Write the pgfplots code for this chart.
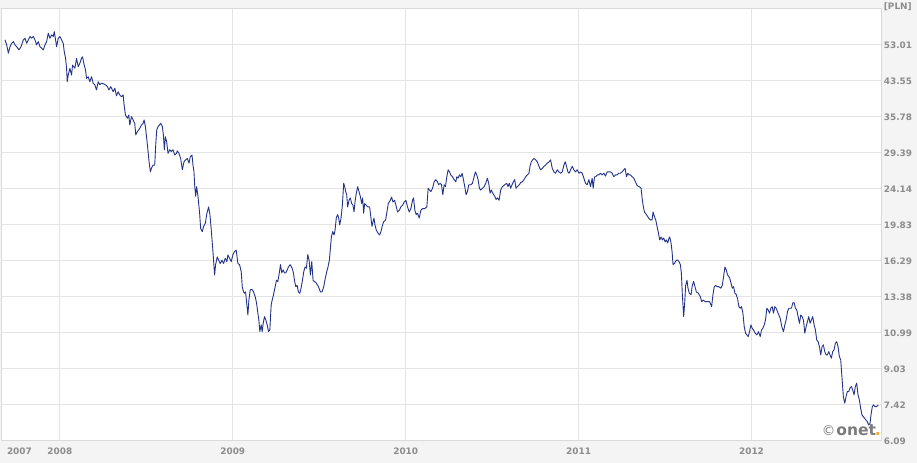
\documentclass[border=0pt]{standalone}
\usepackage{pgfplots}
\pgfplotsset{compat=1.18}
\usepackage{fontspec}
\setmainfont{DejaVu Sans}
\definecolor{bg}{HTML}{F4F4F4}
\definecolor{gridc}{HTML}{E4E4E4}
\definecolor{borderc}{HTML}{DADADA}
\definecolor{tickc}{HTML}{8C8C8C}
\definecolor{linec}{HTML}{24338A}
\definecolor{onetgray}{HTML}{7B7B7B}
\definecolor{onetorange}{HTML}{F7A833}
\begin{document}
\begin{tikzpicture}
\useasboundingbox (0,0) rectangle (917bp,463bp);
\fill[bg] (0,0) rectangle (917bp,463bp);
\begin{axis}[
  name=ax,
  at={(1.7bp,22.7bp)}, anchor=south west,
  scale only axis, width=880bp, height=432bp,
  xmin=2007.6635, xmax=2012.753,
  ymode=log, ymin=6.09, ymax=64.53,
  axis background/.style={fill=white},
  axis line style={draw=borderc, line width=0.8bp},
  grid=major,
  major grid style={draw=gridc, line width=0.8bp},
  tick style={draw=none},
  xtick={2008,2009,2010,2011,2012},
  xticklabels={2008,2009,2010,2011,2012},
  extra x ticks={2007.766},
  extra x tick labels={2007},
  extra x tick style={grid=none},
  ytick={6.09,7.42,9.03,10.99,13.38,16.29,19.83,24.14,29.39,35.78,43.55,53.01},
  yticklabels={6.09,7.42,9.03,10.99,13.38,16.29,19.83,24.14,29.39,35.78,43.55,53.01},
  yticklabel pos=right,
  /pgf/number format/assume math mode=true,
  ticklabel style={font=\fontsize{8.9bp}{10bp}\selectfont\bfseries, text=tickc, inner sep=0pt},
  yticklabel style={anchor=west, xshift=2bp, yshift=-1bp},
  xticklabel style={anchor=north, yshift=-7.2bp},
]
\addplot[color=linec, line width=0.9bp, mark=none, line join=round] table {
2007.6827 54.3
2007.6924 52.8
2007.7020 50.5
2007.7116 52.3
2007.7212 53.3
2007.7308 53.8
2007.7405 52.8
2007.7501 52.3
2007.7636 51.4
2007.7751 52.3
2007.7886 54.3
2007.7982 54.8
2007.8078 53.3
2007.8175 54.3
2007.8271 55.3
2007.8367 54.8
2007.8463 55.3
2007.8559 54.3
2007.8655 52.8
2007.8751 53.8
2007.8848 52.3
2007.8944 51.9
2007.9040 51.4
2007.9136 52.8
2007.9232 53.8
2007.9329 56.3
2007.9425 54.8
2007.9521 55.8
2007.9617 55.3
2007.9675 56.8
2007.9752 54.3
2007.9810 52.3
2007.9906 54.8
2008.0002 55.3
2008.0098 54.3
2008.0194 53.3
2008.0252 50.9
2008.0329 49.1
2008.0387 46.5
2008.0425 43.2
2008.0483 44.8
2008.0579 46.5
2008.0675 44.8
2008.0733 47.3
2008.0868 46.5
2008.0964 49.1
2008.1060 46.9
2008.1156 47.8
2008.1253 49.1
2008.1310 49.5
2008.1406 47.3
2008.1483 46.1
2008.1541 44.0
2008.1637 44.4
2008.1734 43.2
2008.1830 44.4
2008.1926 42.85
2008.2022 42.46
2008.2118 41.3
2008.2215 43.2
2008.2311 42.5
2008.2407 42.85
2008.2599 42.6
2008.2753 42.06
2008.2830 41.3
2008.2945 42.06
2008.3080 40.9
2008.3177 41.7
2008.3273 40.0
2008.3369 40.9
2008.3465 40.2
2008.3561 39.8
2008.3657 40.2
2008.3715 38.06
2008.3792 36.0
2008.3908 35.4
2008.3985 36.0
2008.4043 34.1
2008.4139 35.7
2008.4235 35.07
2008.4331 34.4
2008.4389 32.3
2008.4485 32.9
2008.4620 33.5
2008.4716 34.1
2008.4812 34.4
2008.4870 35.07
2008.4947 33.8
2008.5043 31.1
2008.5101 29.5
2008.5158 27.9
2008.5235 26.4
2008.5293 26.9
2008.5389 27.4
2008.5485 27.4
2008.5543 30.6
2008.5601 33.2
2008.5678 33.8
2008.5832 34.4
2008.5928 33.8
2008.5986 32.3
2008.6043 29.8
2008.6101 32.0
2008.6178 31.1
2008.6255 29.2
2008.6351 29.8
2008.6447 29.5
2008.6543 29.8
2008.6639 28.96
2008.6736 29.2
2008.6793 29.6
2008.6889 29.2
2008.6986 28.4
2008.7082 26.7
2008.7178 27.9
2008.7274 28.2
2008.7371 28.4
2008.7467 27.7
2008.7544 28.7
2008.7640 28.96
2008.7698 27.4
2008.7755 26.4
2008.7794 24.6
2008.7852 23.1
2008.7909 24.35
2008.7986 23.1
2008.8082 21.06
2008.8140 19.4
2008.8236 19.05
2008.8313 19.6
2008.8410 19.94
2008.8506 21.06
2008.8602 21.8
2008.8679 20.9
2008.8756 19.2
2008.8852 17.1
2008.8948 15.03
2008.9006 15.9
2008.9102 16.6
2008.9179 16.3
2008.9276 16.0
2008.9372 16.3
2008.9468 16.0
2008.9564 16.47
2008.9660 16.17
2008.9718 16.77
2008.9814 16.47
2008.9911 16.17
2009.0007 16.77
2009.0103 17.1
2009.0199 17.2
2009.0296 16.0
2009.0392 15.9
2009.0488 15.3
2009.0546 14.1
2009.0623 13.7
2009.0681 13.6
2009.0738 13.7
2009.0815 12.76
2009.0873 12.08
2009.0931 13.1
2009.1008 13.85
2009.1104 13.9
2009.1200 13.7
2009.1296 13.35
2009.1373 12.9
2009.1450 12.2
2009.1508 11.75
2009.1566 11.03
2009.1643 11.44
2009.1700 11.03
2009.1758 11.54
2009.1835 11.97
2009.1912 11.75
2009.1989 11.44
2009.2066 11.03
2009.2143 11.13
2009.2220 12.76
2009.2278 13.1
2009.2355 13.5
2009.2451 14.1
2009.2528 14.6
2009.2605 14.5
2009.2701 15.3
2009.2759 15.9
2009.2836 15.2
2009.2912 15.45
2009.2989 15.2
2009.3066 15.2
2009.3143 15.45
2009.3220 15.7
2009.3316 15.9
2009.3432 15.6
2009.3509 15.2
2009.3566 14.6
2009.3643 14.1
2009.3720 14.2
2009.3797 13.7
2009.3874 13.6
2009.3951 13.98
2009.4028 14.6
2009.4105 15.3
2009.4182 15.7
2009.4259 15.6
2009.4336 16.8
2009.4413 16.3
2009.4490 15.03
2009.4567 16.17
2009.4644 14.6
2009.4721 14.5
2009.4817 14.4
2009.4913 14.2
2009.4990 13.98
2009.5067 13.7
2009.5163 13.7
2009.5260 14.1
2009.5356 14.8
2009.5433 15.3
2009.5491 15.6
2009.5587 16.3
2009.5645 17.4
2009.5702 18.5
2009.5779 19.05
2009.5856 18.7
2009.5914 19.2
2009.5991 20.6
2009.6068 20.9
2009.6126 20.5
2009.6183 19.76
2009.6260 20.5
2009.6337 22.0
2009.6414 24.8
2009.6472 24.35
2009.6530 23.7
2009.6587 23.3
2009.6645 21.8
2009.6722 22.6
2009.6799 22.9
2009.6876 22.2
2009.6953 22.0
2009.7011 21.2
2009.7069 22.4
2009.7145 23.5
2009.7222 24.35
2009.7299 23.7
2009.7376 23.1
2009.7453 22.2
2009.7511 22.9
2009.7569 21.06
2009.7626 22.2
2009.7722 22.0
2009.7819 21.8
2009.7915 21.8
2009.7992 20.5
2009.8050 19.6
2009.8107 20.1
2009.8165 20.5
2009.8223 19.76
2009.8300 19.2
2009.8396 18.9
2009.8492 18.7
2009.8569 19.05
2009.8646 19.65
2009.8723 20.1
2009.8839 20.3
2009.8915 21.2
2009.8992 22.2
2009.9108 22.6
2009.9185 23.0
2009.9262 22.4
2009.9358 22.6
2009.9435 22.0
2009.9531 21.2
2009.9627 21.4
2009.9723 21.8
2009.9819 22.0
2009.9915 22.4
2010.0012 22.6
2010.0108 21.8
2010.0204 21.2
2010.0300 21.6
2010.0396 22.6
2010.0454 22.9
2010.0531 21.4
2010.0608 20.9
2010.0685 21.06
2010.0781 20.5
2010.0877 21.4
2010.0974 21.6
2010.1108 21.6
2010.1224 21.8
2010.1300 24.14
2010.1378 23.9
2010.1455 23.7
2010.1551 24.14
2010.1647 25.0
2010.1743 25.3
2010.1839 25.0
2010.1897 24.6
2010.1993 24.8
2010.2070 24.6
2010.2147 23.3
2010.2224 24.6
2010.2301 24.35
2010.2378 25.7
2010.2455 26.7
2010.2532 26.4
2010.2609 25.96
2010.2705 25.7
2010.2801 25.3
2010.2898 25.0
2010.2955 25.7
2010.3032 25.5
2010.3109 25.96
2010.3186 25.7
2010.3263 26.2
2010.3340 25.3
2010.3417 24.35
2010.3494 23.3
2010.3571 23.7
2010.3648 24.6
2010.3763 24.6
2010.3860 24.8
2010.3956 25.7
2010.4033 26.4
2010.4110 25.96
2010.4187 25.3
2010.4264 24.14
2010.4341 23.9
2010.4437 24.14
2010.4533 24.35
2010.4629 24.8
2010.4725 25.5
2010.4802 24.8
2010.4879 23.5
2010.4956 23.9
2010.5033 23.5
2010.5149 23.1
2010.5226 22.7
2010.5303 22.9
2010.5399 22.6
2010.5495 23.9
2010.5591 24.35
2010.5726 24.6
2010.5841 24.8
2010.5918 24.35
2010.5995 24.8
2010.6072 24.14
2010.6149 24.6
2010.6226 25.0
2010.6303 25.3
2010.6380 24.14
2010.6457 24.35
2010.6572 24.6
2010.6649 24.9
2010.6745 25.0
2010.6841 25.3
2010.6938 25.7
2010.7034 25.96
2010.7130 26.2
2010.7188 27.2
2010.7265 27.9
2010.7342 28.2
2010.7419 28.4
2010.7515 28.2
2010.7611 27.9
2010.7707 27.2
2010.7803 26.7
2010.7900 26.9
2010.7996 27.2
2010.8092 27.4
2010.8188 27.7
2010.8303 27.9
2010.8380 28.2
2010.8477 26.9
2010.8573 26.4
2010.8669 26.2
2010.8765 26.7
2010.8861 26.4
2010.8958 26.2
2010.9054 26.4
2010.9150 27.4
2010.9227 27.9
2010.9304 27.2
2010.9381 26.4
2010.9458 26.2
2010.9535 26.7
2010.9631 27.2
2010.9727 26.7
2010.9824 26.4
2010.9920 26.7
2011.0016 26.2
2011.0112 26.4
2011.0208 26.2
2011.0305 25.5
2011.0401 24.8
2011.0497 24.6
2011.0593 25.3
2011.0689 24.35
2011.0786 25.5
2011.0843 24.14
2011.0920 25.7
2011.0997 25.7
2011.1074 25.96
2011.1171 25.96
2011.1267 26.2
2011.1363 25.96
2011.1459 26.2
2011.1555 25.8
2011.1652 26.4
2011.1748 26.4
2011.1844 26.4
2011.1940 26.2
2011.2036 25.7
2011.2133 25.96
2011.2229 25.96
2011.2325 26.2
2011.2421 26.2
2011.2518 26.4
2011.2614 26.7
2011.2691 26.9
2011.2768 25.7
2011.2845 26.2
2011.2922 25.96
2011.2999 25.96
2011.3095 25.7
2011.3191 25.5
2011.3288 25.0
2011.3384 24.5
2011.3538 24.3
2011.3615 24.14
2011.3672 22.9
2011.3730 22.0
2011.3807 21.2
2011.3923 20.9
2011.4057 20.5
2011.4153 20.3
2011.4250 20.3
2011.4307 21.2
2011.4384 20.7
2011.4461 20.3
2011.4538 19.6
2011.4615 18.9
2011.4692 18.2
2011.4769 18.5
2011.4846 18.2
2011.4923 18.4
2011.5000 18.0
2011.5077 18.2
2011.5154 17.9
2011.5231 18.4
2011.5269 18.5
2011.5346 17.9
2011.5404 17.1
2011.5462 15.9
2011.5539 16.0
2011.5654 16.3
2011.5731 16.3
2011.5808 16.17
2011.5885 15.9
2011.5943 15.2
2011.6000 13.5
2011.6077 11.97
2011.6135 12.9
2011.6193 14.2
2011.6270 14.6
2011.6327 13.98
2011.6404 13.6
2011.6501 13.5
2011.6578 14.2
2011.6655 14.5
2011.6732 14.1
2011.6809 13.7
2011.6924 13.6
2011.7039 13.35
2011.7116 12.99
2011.7193 13.1
2011.7328 12.99
2011.7463 12.99
2011.7578 12.99
2011.7694 12.64
2011.7771 13.5
2011.7847 14.1
2011.7924 14.2
2011.8001 14.1
2011.8098 14.1
2011.8232 13.98
2011.8309 14.2
2011.8386 14.9
2011.8463 15.7
2011.8540 15.45
2011.8617 15.03
2011.8733 14.8
2011.8810 14.4
2011.8887 13.98
2011.8964 14.1
2011.9041 13.6
2011.9117 13.5
2011.9194 13.2
2011.9271 12.64
2011.9348 12.53
2011.9425 12.64
2011.9502 12.2
2011.9579 11.33
2011.9656 10.93
2011.9733 10.83
2011.9810 10.73
2011.9887 11.03
2011.9964 11.44
2012.0041 11.23
2012.0118 11.13
2012.0214 10.93
2012.0310 10.83
2012.0406 11.03
2012.0503 10.73
2012.0580 11.13
2012.0657 11.23
2012.0734 11.44
2012.0810 11.75
2012.0887 12.53
2012.0964 12.41
2012.1041 12.2
2012.1118 12.53
2012.1195 12.64
2012.1272 12.2
2012.1349 12.64
2012.1426 12.53
2012.1503 12.3
2012.1580 12.08
2012.1657 11.86
2012.1753 11.33
2012.1849 11.03
2012.1926 11.44
2012.2003 11.75
2012.2080 12.3
2012.2157 12.53
2012.2234 12.53
2012.2311 12.53
2012.2388 12.9
2012.2465 12.92
2012.2542 12.53
2012.2619 12.41
2012.2696 11.97
2012.2773 11.54
2012.2850 12.08
2012.2927 11.97
2012.3004 11.75
2012.3081 10.93
2012.3158 11.33
2012.3235 11.65
2012.3312 11.97
2012.3389 11.54
2012.3466 11.75
2012.3543 11.97
2012.3620 11.44
2012.3696 11.13
2012.3773 10.54
2012.3850 10.44
2012.3927 10.16
2012.4004 9.71
2012.4081 10.16
2012.4158 10.26
2012.4235 9.89
2012.4312 9.71
2012.4389 9.71
2012.4466 9.89
2012.4543 9.71
2012.4620 9.54
2012.4697 9.89
2012.4774 9.98
2012.4851 10.35
2012.4928 10.44
2012.5005 10.16
2012.5082 9.62
2012.5159 9.45
2012.5236 8.55
2012.5313 7.73
2012.5390 7.46
2012.5467 7.73
2012.5544 7.95
2012.5621 7.95
2012.5698 8.10
2012.5775 8.17
2012.5852 8.02
2012.5929 7.81
2012.6006 8.17
2012.6083 8.32
2012.6160 7.81
2012.6237 7.60
2012.6314 7.25
2012.6391 6.99
2012.6467 6.93
2012.6544 6.87
2012.6621 6.80
2012.6698 6.74
2012.6775 6.62
2012.6852 6.68
2012.6910 6.99
2012.6987 7.32
2012.7064 7.39
2012.7141 7.32
2012.7237 7.32
2012.7333 7.39
};
\node[anchor=base west, inner sep=0pt, text=onetgray] at (rel axis cs:0.9318,0.0110)
  {{\fontsize{13.5bp}{13.5bp}\selectfont\textcopyright}\hspace{1bp}{\fontsize{15.5bp}{15.5bp}\selectfont\bfseries onet}\hspace{-1bp}{\color{onetorange}\fontsize{15.5bp}{15.5bp}\selectfont\bfseries.}};
\end{axis}
\node[anchor=west, inner sep=0pt, text=tickc, font=\fontsize{8.9bp}{10bp}\selectfont\bfseries] at ([xshift=2bp,yshift=1.6bp]ax.north east) {[PLN]};
\end{tikzpicture}
\end{document}
